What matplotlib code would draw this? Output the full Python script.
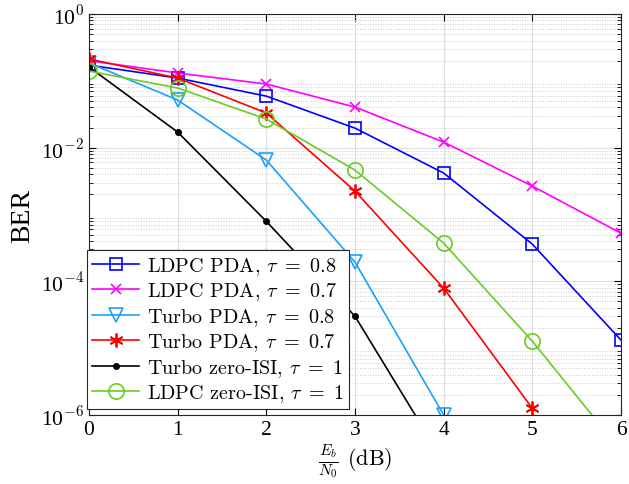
import numpy as np
import matplotlib
matplotlib.use("Agg")
from matplotlib import pyplot as plt
from matplotlib.ticker import LogLocator, NullFormatter

plt.rcParams['mathtext.fontset'] = 'cm'
plt.rcParams['font.family'] = 'Liberation Serif'

# Eb/N0 (dB)
snr = [0, 1, 2, 3, 4, 5, 6]

ldpc_pda_08 = [0.172, 0.110, 0.059, 0.0196, 0.00417, 3.6e-4, 1.32e-5]
ldpc_pda_07 = [0.200, 0.131, 0.0896, 0.0405, 0.0121, 0.00266, 5.25e-4]
turbo_pda_08 = [0.185, 0.0516, 0.00652, 1.94e-4, 1.0e-6]
turbo_pda_07 = [0.212, 0.110, 0.033, 0.00224, 7.9e-5, 1.26e-6]
turbo_zero = [0.161, 0.0171, 7.9e-4, 3.0e-5, 2.0e-7]
ldpc_zero = [0.140, 0.078, 0.0268, 0.00462, 3.73e-4, 1.27e-5, 2.9e-7]

labels = [r'LDPC PDA, $\tau\ =\ 0.8$', r'LDPC PDA, $\tau\ =\ 0.7$',
          r'Turbo PDA, $\tau\ =\ 0.8$', r'Turbo PDA, $\tau\ =\ 0.7$',
          r'Turbo zero-ISI, $\tau\ =\ 1$', r'LDPC zero-ISI, $\tau\ =\ 1$']

fig = plt.figure(figsize=(6.29, 4.85), dpi=100)
ax = fig.add_axes([89/629, 1-416/485, (621-89)/629, (416-15)/485])

mfc = 'none'
ax.semilogy(snr, ldpc_pda_08, '-s', color='#0000FF', ms=9, mfc=mfc, mew=1.2, lw=1.2, label=labels[0])
ax.semilogy(snr, ldpc_pda_07, '-x', color='#FF00FF', ms=7, mew=1.2, lw=1.2, label=labels[1])
ax.semilogy(snr[:5], turbo_pda_08, '-v', color='#1AA0FF', ms=10, mfc=mfc, mew=1.2, lw=1.2, label=labels[2])
ax.semilogy(snr[:6], turbo_pda_07, '-', marker=(6, 2, 0), color='#FF0000', ms=10, mew=1.3, lw=1.2, label=labels[3])
ax.semilogy(snr[:5], turbo_zero, '-', marker='o', color='black', ms=4, lw=1.2, label=labels[4])
ax.semilogy(snr, ldpc_zero, '-o', color='#6ACC22', ms=11, mfc=mfc, mew=1.2, lw=1.2, label=labels[5])

ax.set_xlim(0, 6)
ax.set_ylim(1e-6, 1)
ax.set_xticks(snr)
ax.set_yticks([1e-6, 1e-4, 1e-2, 1e0])
ax.set_yticklabels([r'10$^{-6}$', r'10$^{-4}$', r'10$^{-2}$', r'10$^{0}$'])
ax.yaxis.set_minor_locator(LogLocator(base=10, subs=np.arange(2, 10), numticks=20))
ax.yaxis.set_minor_formatter(NullFormatter())

ax.grid(which='major', color='#DDDDDD', ls='-', lw=0.8)
ax.grid(which='minor', axis='y', color='#CCCCCC', ls=':', lw=0.7)
ax.tick_params(which='both', direction='in', top=True, right=True, labelsize=15.5)
ax.tick_params(which='major', length=5)
ax.tick_params(which='minor', length=3)
for s in ax.spines.values():
    s.set_color('#262626')

ax.set_ylabel('BER', fontsize=20, labelpad=4)
ax.set_xlabel(r'$\frac{E_b}{N_0}$ (dB)', fontsize=16, fontfamily='cmr10', labelpad=2)

leg = ax.legend(loc='lower left', bbox_to_anchor=(-0.003, 0.015), prop={'family': 'cmr10', 'size': 14.5},
                fancybox=False, edgecolor='#262626', framealpha=1, handlelength=2.3,
                labelspacing=0.18, borderpad=0.25, handletextpad=0.4, borderaxespad=0)
leg.get_frame().set_linewidth(0.8)

fig.savefig('out.png', dpi=100)
